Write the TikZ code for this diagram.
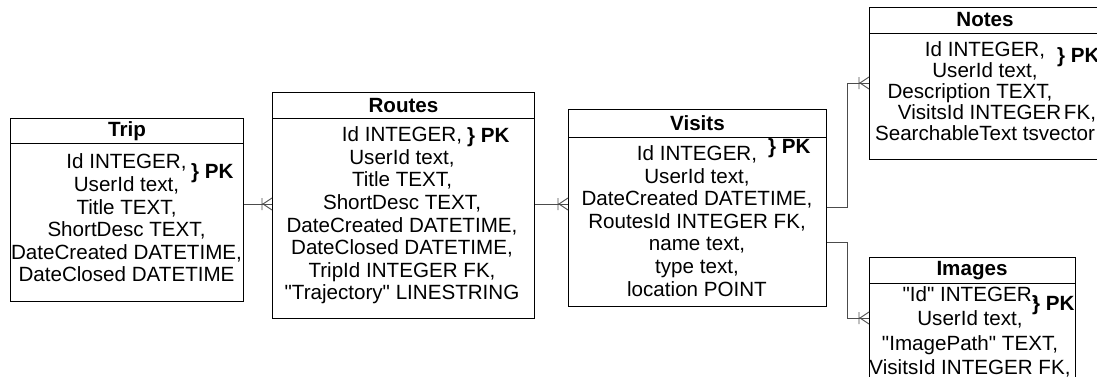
\documentclass[tikz,border=0pt]{standalone}
\usepackage{fontspec}
\setmainfont{Liberation Sans}[Ligatures=TeXOff]
\tikzset{
  tablebox/.style={draw, line width=0.9pt, inner sep=0pt, anchor=north west},
  tabletitle/.style={inner sep=0pt, font=\bfseries\fontsize{20.6}{24}\selectfont},
  tablerows/.style={align=center, inner sep=0pt, font=\fontsize{20.6}{22.6}\selectfont},
  pk/.style={anchor=west, inner sep=0pt, font=\bfseries\fontsize{20.6}{24}\selectfont},
  link/.style={draw=black!70, line width=0.9pt},
}
\newcommand{\crowfoot}[1]{%
  \draw[link] (#1) ++(-10,-6) -- ++(0,12) (#1) ++(0,-6) -- ++(-9,6) -- ++(9,6);}

\begin{document}
\begin{tikzpicture}[x=1pt,y=1pt,yscale=-1]
\useasboundingbox (0,0) rectangle (1097,376);
\clip (0,0) rectangle (1097,376);
% Trip
\node[tablebox, minimum width=233pt, minimum height=25pt] (triphead) at (10,118) {};
\node[tablebox, minimum width=233pt, minimum height=158pt] (tripbody) at (10,143) {};
\node[tabletitle] (triptitle) at (triphead) {Trip};
\node[tablerows] (triprows) at (126.5,218) {Id INTEGER,\\UserId text,\\Title TEXT,\\ShortDesc TEXT,\\DateCreated DATETIME,\\DateClosed DATETIME};
\node[pk] (trippk) at (191,173) {\} PK};
% Routes
\node[tablebox, minimum width=262pt, minimum height=26pt] (routeshead) at (272,92) {};
\node[tablebox, minimum width=262pt, minimum height=200pt] (routesbody) at (272,118) {};
\node[tabletitle] (routestitle) at (routeshead) {Routes};
\node[tablerows] (routesrows) at (402,215.5) {Id INTEGER,\\UserId text,\\Title TEXT,\\ShortDesc TEXT,\\DateCreated DATETIME,\\DateClosed DATETIME,\\TripId INTEGER FK,\\"Trajectory" LINESTRING};
\node[pk] (routespk) at (467,137) {\} PK};
% Visits
\node[tablebox, minimum width=258pt, minimum height=28pt] (visitshead) at (568,109) {};
\node[tablebox, minimum width=258pt, minimum height=169pt] (visitsbody) at (568,137) {};
\node[tabletitle] (visitstitle) at (visitshead) {Visits};
\node[tablerows] (visitsrows) at (697,221) {Id INTEGER,\\UserId text,\\DateCreated DATETIME,\\RoutesId INTEGER FK,\\name text,\\type text,\\location POINT};
\node[pk] (visitspk) at (768,148) {\} PK};
% Notes
\node[tablebox, minimum width=240pt, minimum height=26pt] (noteshead) at (869,7) {};
\node[tablebox, minimum width=240pt, minimum height=126pt] (notesbody) at (869,33) {};
\node[tabletitle] (notestitle) at (985,20) {Notes};
\node[tablerows] (notesrows) at (985,91.5) {Id INTEGER,\\[-1.6pt]UserId text,\\[-1.6pt]Description TEXT,\mbox{\hspace{30pt}}\\[-1.6pt]\mbox{\hspace{24pt}}VisitsId INTEGER\hspace{-3pt} FK,\\[-1.6pt]SearchableText tsvector};
\node[pk] (notespk) at (1057,57) {\} PK};
% Images
\node[tablebox, minimum width=206pt, minimum height=26pt] (imageshead) at (869,257) {};
\node[tablebox, minimum width=206pt, minimum height=140pt] (imagesbody) at (869,283) {};
\node[tabletitle] (imagestitle) at (972,271) {Images};
\node[tablerows] (imagesrows) at (970,332) {"Id" INTEGER,\\[1.9pt]UserId text,\\[1.9pt]"ImagePath" TEXT,\\[1.9pt]VisitsId INTEGER FK,};
\node[pk] (imagespk) at (1032,305) {\} PK};
% links
\coordinate (leftlink) at (0,204);
\coordinate (notesup) at (847,83);
\coordinate (imagesdown) at (847,318);
\draw[link] (tripbody.east |- leftlink) -- (routesbody.west |- leftlink);
\crowfoot{routesbody.west |- leftlink}
\draw[link] (routesbody.east |- leftlink) -- (visitsbody.west |- leftlink);
\crowfoot{visitsbody.west |- leftlink}
\draw[link] (visitsbody.east |- 0,207) -| (notesup) -- (notesbody.west |- notesup);
\crowfoot{notesbody.west |- notesup}
\draw[link] (visitsbody.east |- 0,242) -| (imagesdown) -- (imagesbody.west |- imagesdown);
\crowfoot{imagesbody.west |- imagesdown}
\end{tikzpicture}
\end{document}
